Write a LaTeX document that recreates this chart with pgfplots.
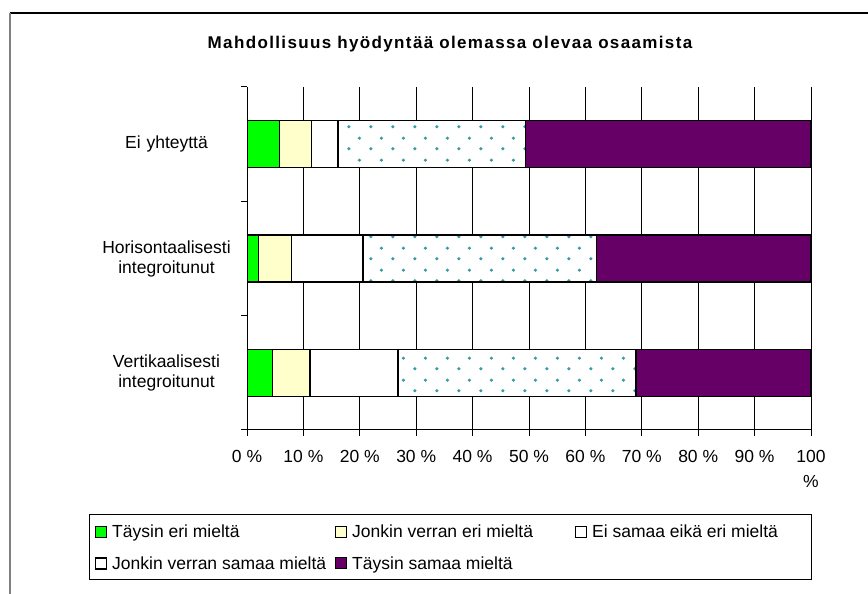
\documentclass[border=0pt]{standalone}
\usepackage{pgfplots}
\pgfplotsset{compat=1.18}
\usepackage{fontspec}
\setmainfont{Liberation Sans}
\newfontfamily\titlefont[LetterSpace=8]{Liberation Sans}
\usetikzlibrary{patterns.meta}
\definecolor{cgreen}{RGB}{0,255,0}
\definecolor{cyellow}{RGB}{255,255,204}
\definecolor{cpurple}{RGB}{102,0,102}
\definecolor{dotcol}{RGB}{55,155,160}
\tikzdeclarepattern{
  name=sparsedots,
  type=uncolored,
  bottom left={(0bp,0bp)},
  top right={(21.5bp,22bp)},
  tile size={(21.5bp,22bp)},
  code={\fill (5bp,5.5bp) circle (1.8bp); \fill (15.75bp,16.5bp) circle (1.8bp);}
}
\begin{document}
\begin{tikzpicture}
\useasboundingbox (0,0) rectangle (868bp,594bp);
\draw[black,line width=1.2bp] (10bp,581bp) -- (868bp,581bp);
\draw[gray,line width=1.5bp] (10bp,581bp) -- (10bp,0bp);
\draw[black,line width=1bp] (89bp,14bp) rectangle (811bp,79bp);
\node[font=\titlefont\bfseries\fontsize{17bp}{20bp}\selectfont] at (450bp,550bp) {Mahdollisuus hyödyntää olemassa olevaa osaamista};
\begin{axis}[
  at={(247bp,164bp)}, anchor=south west,
  scale only axis, width=564bp, height=343bp,
  font=\fontsize{17.5bp}{20bp}\selectfont,
  xbar stacked, bar width=47bp,
  xmin=0, xmax=100, ymin=0, ymax=3,
  axis x line*=bottom, axis y line*=left,
  axis line style={line width=1bp},
  tick align=outside,
  tick style={black,line width=1bp},
  major tick length=6bp,
  xtick={0,10,...,100},
  xticklabels={0~\%,10~\%,20~\%,30~\%,40~\%,50~\%,60~\%,70~\%,80~\%,90~\%,{100\\\%}},
  xticklabel style={align=center, yshift=-11bp, font=\fontsize{17.5bp}{25bp}\selectfont},
  xmajorgrids, major grid style={black,line width=0.8bp},
  ytick={0,1,2,3}, yticklabels={},
  extra y ticks={0.5,1.5,2.5},
  extra y tick labels={{Vertikaalisesti\\integroitunut},{Horisontaalisesti\\integroitunut},{Ei yhteyttä}},
  extra y tick style={major tick length=0pt, yticklabel style={text width=134bp, align=center, xshift=-10bp}},
  /pgf/number format/assume math mode=true,
  legend columns=3,
  legend cell align=left,
  legend image code/.code={\draw[#1,line width=1bp] (0bp,-5.5bp) rectangle (11bp,5.5bp);},
  legend style={at={(axis description cs:-0.2801,-0.2478)}, anchor=north west,
    draw=none, fill=none, font=\fontsize{17.5bp}{20bp}\selectfont,
    column sep=0pt, row sep=13bp, inner xsep=6bp, inner ysep=8bp},
]
\addplot[draw=black, line width=1.5bp, fill=cgreen] coordinates {(4.5,0.5) (2.0,1.5) (5.8,2.5)};
\addlegendentry{\makebox[224bp][l]{\hspace*{3bp}Täysin eri mieltä}}
\addplot[draw=black, line width=1.5bp, fill=cyellow] coordinates {(6.7,0.5) (5.9,1.5) (5.6,2.5)};
\addlegendentry{\makebox[224bp][l]{\hspace*{3bp}Jonkin verran eri mieltä}}
\addplot[draw=black, line width=1.5bp, fill=white] coordinates {(15.6,0.5) (12.7,1.5) (4.7,2.5)};
\addlegendentry{\makebox[212bp][l]{\hspace*{3bp}Ei samaa eikä eri mieltä}}
\addplot[draw=black, line width=1.5bp, preaction={fill=white}, pattern=sparsedots, pattern color=dotcol] coordinates {(42.2,0.5) (41.4,1.5) (33.3,2.5)};
\addlegendentry{\makebox[224bp][l]{\hspace*{3bp}Jonkin verran samaa mieltä}}
\addplot[draw=black, line width=1.5bp, fill=cpurple] coordinates {(31.0,0.5) (38.0,1.5) (50.6,2.5)};
\addlegendentry{\makebox[224bp][l]{\hspace*{3bp}Täysin samaa mieltä}}
\end{axis}
\end{tikzpicture}
\end{document}
